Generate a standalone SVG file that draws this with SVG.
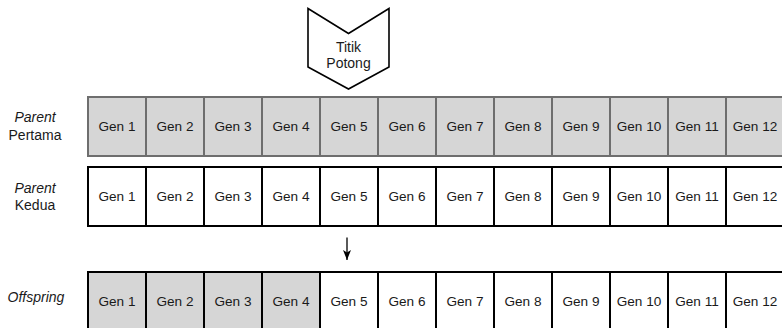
<svg xmlns="http://www.w3.org/2000/svg" width="782" height="328" viewBox="0 0 782 328">
  <style>
    text { font-family: "Liberation Sans", Arial, sans-serif; fill: #1a1a1a; text-anchor: middle; }
    .gen { font-size: 13.6px; }
    .lbl { font-size: 14px; }
    .it { font-style: italic; }
    .p1 rect { fill: #d6d6d6; stroke: #6e6e6e; stroke-width: 2; }
    .p2 rect { fill: #ffffff; stroke: #000000; stroke-width: 2; }
    .off rect { fill: #ffffff; stroke: #000000; stroke-width: 2; }
    .off .x rect { fill: #d6d6d6; }
    .cut { fill: #ffffff; stroke: #000000; stroke-width: 1.6; stroke-linejoin: miter; }
  </style>
  <defs>
    <marker id="ah" viewBox="0 0 10 10" refX="10" refY="5" markerWidth="10" markerHeight="8" orient="auto" markerUnits="userSpaceOnUse" preserveAspectRatio="none">
      <path d="M0,0 L10,5 L0,10 L2.5,5 z" fill="#000"/>
    </marker>
  </defs>

  <!-- crossover point marker -->
  <g id="titik-potong">
    <polygon class="cut" points="308,8.5 348.5,33.5 389,8.5 389,67 348.5,89 308,67"/>
    <text class="lbl" x="348.5" y="51.5">Titik</text>
    <text class="lbl" x="348.5" y="68">Potong</text>
  </g>

  <!-- row labels -->
  <g id="label-parent1">
    <text class="lbl it" x="35" y="122">Parent</text>
    <text class="lbl" x="35" y="139.5">Pertama</text>
  </g>
  <g id="label-parent2">
    <text class="lbl it" x="35" y="193">Parent</text>
    <text class="lbl" x="35" y="209.5">Kedua</text>
  </g>
  <g id="label-offspring">
    <text class="lbl it" x="36" y="302">Offspring</text>
  </g>

  <!-- first parent chromosome -->
  <g id="parent1" class="p1">
    <g id="p1-g1"><rect x="88" y="97" width="58" height="59"/><text class="gen" x="117" y="131">Gen 1</text></g>
    <g id="p1-g2"><rect x="146" y="97" width="58" height="59"/><text class="gen" x="175" y="131">Gen 2</text></g>
    <g id="p1-g3"><rect x="204" y="97" width="58" height="59"/><text class="gen" x="233" y="131">Gen 3</text></g>
    <g id="p1-g4"><rect x="262" y="97" width="58" height="59"/><text class="gen" x="291" y="131">Gen 4</text></g>
    <g id="p1-g5"><rect x="320" y="97" width="58" height="59"/><text class="gen" x="349" y="131">Gen 5</text></g>
    <g id="p1-g6"><rect x="378" y="97" width="58" height="59"/><text class="gen" x="407" y="131">Gen 6</text></g>
    <g id="p1-g7"><rect x="436" y="97" width="58" height="59"/><text class="gen" x="465" y="131">Gen 7</text></g>
    <g id="p1-g8"><rect x="494" y="97" width="58" height="59"/><text class="gen" x="523" y="131">Gen 8</text></g>
    <g id="p1-g9"><rect x="552" y="97" width="58" height="59"/><text class="gen" x="581" y="131">Gen 9</text></g>
    <g id="p1-g10"><rect x="610" y="97" width="58" height="59"/><text class="gen" x="639" y="131">Gen 10</text></g>
    <g id="p1-g11"><rect x="668" y="97" width="58" height="59"/><text class="gen" x="697" y="131">Gen 11</text></g>
    <g id="p1-g12"><rect x="726" y="97" width="58" height="59"/><text class="gen" x="755" y="131">Gen 12</text></g>
  </g>

  <!-- second parent chromosome -->
  <g id="parent2" class="p2">
    <g id="p2-g1"><rect x="88" y="167" width="58" height="59"/><text class="gen" x="117" y="201">Gen 1</text></g>
    <g id="p2-g2"><rect x="146" y="167" width="58" height="59"/><text class="gen" x="175" y="201">Gen 2</text></g>
    <g id="p2-g3"><rect x="204" y="167" width="58" height="59"/><text class="gen" x="233" y="201">Gen 3</text></g>
    <g id="p2-g4"><rect x="262" y="167" width="58" height="59"/><text class="gen" x="291" y="201">Gen 4</text></g>
    <g id="p2-g5"><rect x="320" y="167" width="58" height="59"/><text class="gen" x="349" y="201">Gen 5</text></g>
    <g id="p2-g6"><rect x="378" y="167" width="58" height="59"/><text class="gen" x="407" y="201">Gen 6</text></g>
    <g id="p2-g7"><rect x="436" y="167" width="58" height="59"/><text class="gen" x="465" y="201">Gen 7</text></g>
    <g id="p2-g8"><rect x="494" y="167" width="58" height="59"/><text class="gen" x="523" y="201">Gen 8</text></g>
    <g id="p2-g9"><rect x="552" y="167" width="58" height="59"/><text class="gen" x="581" y="201">Gen 9</text></g>
    <g id="p2-g10"><rect x="610" y="167" width="58" height="59"/><text class="gen" x="639" y="201">Gen 10</text></g>
    <g id="p2-g11"><rect x="668" y="167" width="58" height="59"/><text class="gen" x="697" y="201">Gen 11</text></g>
    <g id="p2-g12"><rect x="726" y="167" width="58" height="59"/><text class="gen" x="755" y="201">Gen 12</text></g>
  </g>

  <!-- offspring chromosome: genes 1-4 from first parent -->
  <g id="offspring" class="off">
    <g id="o-g1" class="x"><rect x="88" y="272" width="58" height="60"/><text class="gen" x="117" y="306">Gen 1</text></g>
    <g id="o-g2" class="x"><rect x="146" y="272" width="58" height="60"/><text class="gen" x="175" y="306">Gen 2</text></g>
    <g id="o-g3" class="x"><rect x="204" y="272" width="58" height="60"/><text class="gen" x="233" y="306">Gen 3</text></g>
    <g id="o-g4" class="x"><rect x="262" y="272" width="58" height="60"/><text class="gen" x="291" y="306">Gen 4</text></g>
    <g id="o-g5"><rect x="320" y="272" width="58" height="60"/><text class="gen" x="349" y="306">Gen 5</text></g>
    <g id="o-g6"><rect x="378" y="272" width="58" height="60"/><text class="gen" x="407" y="306">Gen 6</text></g>
    <g id="o-g7"><rect x="436" y="272" width="58" height="60"/><text class="gen" x="465" y="306">Gen 7</text></g>
    <g id="o-g8"><rect x="494" y="272" width="58" height="60"/><text class="gen" x="523" y="306">Gen 8</text></g>
    <g id="o-g9"><rect x="552" y="272" width="58" height="60"/><text class="gen" x="581" y="306">Gen 9</text></g>
    <g id="o-g10"><rect x="610" y="272" width="58" height="60"/><text class="gen" x="639" y="306">Gen 10</text></g>
    <g id="o-g11"><rect x="668" y="272" width="58" height="60"/><text class="gen" x="697" y="306">Gen 11</text></g>
    <g id="o-g12"><rect x="726" y="272" width="58" height="60"/><text class="gen" x="755" y="306">Gen 12</text></g>
  </g>

  <!-- connectors -->
  <g id="connectors">
    <line x1="347" y1="237.5" x2="347" y2="260" stroke="#000" stroke-width="1.3" marker-end="url(#ah)"/>
  </g>
</svg>
